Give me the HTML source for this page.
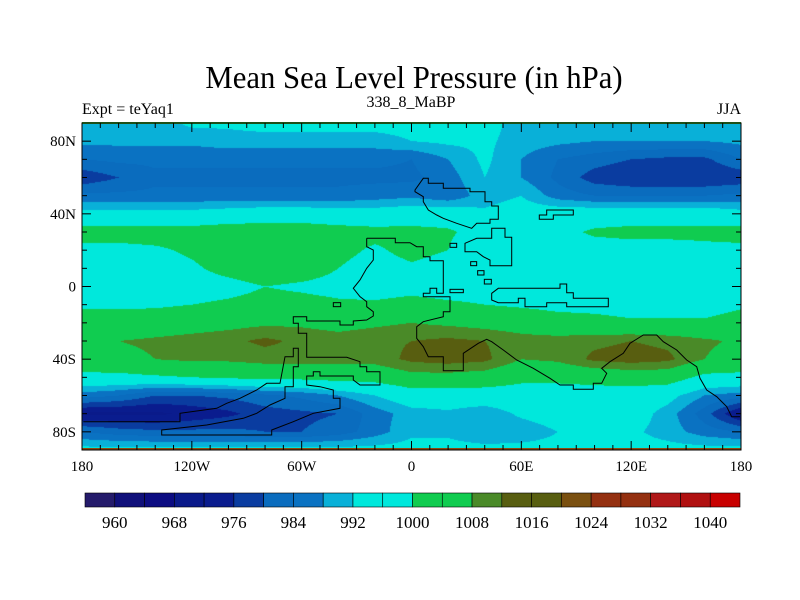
<!DOCTYPE html>
<html><head><meta charset="utf-8"><style>
body{margin:0;background:#fff;width:800px;height:600px;overflow:hidden;position:relative;font-family:"Liberation Serif",serif}
.t{position:absolute;white-space:nowrap;color:#000}
#map{position:absolute;left:82px;top:123px}
svg{position:absolute;left:0;top:0}
</style></head><body>
<div class="t" style="left:0;width:828px;text-align:center;top:59px;font-size:32px;transform:scaleX(0.96)">Mean Sea Level Pressure (in hPa)</div>
<div class="t" style="left:82px;top:101px;font-size:16px">Expt = teYaq1</div>
<div class="t" style="left:311px;width:200px;text-align:center;top:94px;font-size:16px">338_8_MaBP</div>
<div class="t" style="right:59px;top:101px;font-size:16px">JJA</div>
<canvas id="map" width="659" height="327"></canvas>
<svg id="ov" width="800" height="600"></svg>
<script>
const lats=[90,80,70,60,50,40,30,20,10,0,-10,-20,-30,-40,-50,-60,-70,-80,-90];
const lons=[-180,-160,-140,-120,-100,-80,-60,-40,-20,0,20,40,60,80,100,120,140,160,180];
const pressure=[
[990,990,990,993,993,994,994,994,994,994,994,994,990,990,990,990,990,990,990],
[989,989,989,989,990,990,990,990,990,992,993,993,990,989,988,988,988,988,989],
[984,985,985,985,985,985,985,985,985,984,988,993,988,984,982,980,979,979,984],
[977,980,983,983,983,983,983,983,983,983,986,992,988,983,978,976,976,976,977],
[985,985,985,985,985,985,985,985,986,987,985,990,992,986,984,984,984,984,985],
[994,994,994,994,995,996,996,995,995,996,996,993,995,996,996,996,996,996,994],
[1003,1003,1003,1003,1004,1004,1004,1003,1002,1002,1001,997,997,998,1001,1002,1002,1002,1003],
[998,998,999,1001,1004,1005,1004,1002,999,1002,1000,993,996,997,997,997,997,998,998],
[997,997,997,999,1002,1004,1003,1000,997,999,997,995,997,997,997,997,997,997,997],
[997,997,997,997,998,1000,999,998,997,998,997,997,997,997,997,997,997,997,997],
[999,999,999,1000,1001,1002,1002,1001,1001,1002,1001,1000,999,998,998,997,997,997,999],
[1003,1003,1004,1005,1006,1007,1007,1006,1007,1008,1007,1006,1005,1003,1002,1001,1001,1001,1003],
[1007,1008,1009,1010,1011,1013,1011,1010,1011,1012,1013,1012,1010,1010,1011,1012,1011,1009,1007],
[1005,1006,1008,1009,1009,1010,1010,1010,1010,1013,1014,1013,1008,1009,1013,1014,1013,1008,1005],
[998,998,999,1000,1001,1002,1002,1003,1003,1006,1006,1005,1002,1002,1003,1004,1004,998,998],
[986,984,980,980,981,983,985,988,992,996,996,996,996,996,996,996,994,988,986],
[971,971,971,973,975,978,979,980,986,990,991,989,993,995,996,995,990,982,971],
[984,982,981,981,981,980,980,982,986,991,991,988,989,992,995,993,990,986,984],
[994,994,994,994,994,994,994,994,994,994,994,994,994,994,994,994,994,994,994]];
const levels=[960,964,968,972,976,980,984,988,992,996,1000,1004,1008,1012,1016,1020,1024,1028,1032,1036,1040];
const levelLabels=[960,968,976,984,992,1000,1008,1016,1024,1032,1040];
const colors=["#241b6b","#10107a","#0c0c82","#0a1a8a","#0a1c8e","#0a3ca0","#0a6cbe","#0a72c2","#09b0d8","#00e8dc","#00e8dc","#10cc50","#10cc50","#4a8a28","#585e10","#585e10","#7a5010","#943010","#943010","#b01818","#b01010","#c80000"];
const X0=82,X1=741,Y0=123,Y1=450;
const xS=lon=>X0+(lon+180)/360*(X1-X0);
const yS=lat=>Y0+(90-lat)/180*(Y1-Y0);
function hex(c){return [1,3,5].map(k=>parseInt(c.substr(k,2),16));}
const rgb=colors.map(hex);
function idx(v){let i=0;while(i<levels.length&&v>=levels[i])i++;return i;}
const cv=document.getElementById('map'),ctx=cv.getContext('2d');
const W=cv.width,H=cv.height,img=ctx.createImageData(W,H);
const dLat=(lats[0]-lats[lats.length-1])/(lats.length-1),dLon=(lons[lons.length-1]-lons[0])/(lons.length-1);
for(let py=0;py<H;py++){const lat=90-(py+0.5)/H*180;let fr=(lats[0]-lat)/dLat;let r=Math.min(Math.floor(fr),lats.length-2);let ty=fr-r;
for(let px=0;px<W;px++){const lon=-180+(px+0.5)/W*360;let fc=(lon-lons[0])/dLon;let c=Math.min(Math.floor(fc),lons.length-2);let tx=fc-c;
const v=(pressure[r][c]*(1-tx)+pressure[r][c+1]*tx)*(1-ty)+(pressure[r+1][c]*(1-tx)+pressure[r+1][c+1]*tx)*ty;
const col=rgb[idx(v)];const o=(py*W+px)*4;img.data[o]=col[0];img.data[o+1]=col[1];img.data[o+2]=col[2];img.data[o+3]=255;}}
ctx.putImageData(img,0,0);
const NS='http://www.w3.org/2000/svg',ov=document.getElementById('ov');
function mk(t,a,p){const e=document.createElementNS(NS,t);for(const k in a)e.setAttribute(k,a[k]);(p||ov).appendChild(e);return e;}
let s=mk('rect',{x:X0,y:Y0-1,width:X1-X0,height:2,fill:'#3aa030'});


s=mk('rect',{x:X0,y:Y1-2,width:X1-X0,height:2,fill:'#8a4a10'});


const z2=[[860,355],[946,355],[946,368],[990,368],[1020,380],[1040,380],[1040,410],[1060,410],[1060,422],[1100,422],[1100,520],[1080,520],[1080,505],[1060,505],[1060,520],[1040,520],[1040,530],[1120,530],[1120,575],[1100,575],[1100,590],[1040,605],[1020,620],[1020,655],[1040,680],[1055,710],[1100,710],[1100,752],[1160,752],[1160,700],[1205,670],[1230,658],[1245,665],[1280,690],[1320,720],[1370,745],[1420,775],[1450,795],[1490,795],[1490,808],[1550,808],[1550,790],[1575,790],[1590,760],[1575,745],[1600,725],[1640,700],[1660,670],[1700,645],[1740,645],[1760,665],[1800,690],[1830,720],[1860,740],[1870,775],[1890,810],[1920,830],[1950,860],[1965,890],[1990,890]];
const z2b=[[10,905],[300,905],[300,880],[410,865],[440,850],[480,835],[530,810],[560,790],[600,790],[615,710],[640,710],[640,685],[655,685],[655,740],[640,740],[640,800],[615,800],[615,835],[570,855],[530,880],[490,895],[380,915],[245,930],[245,945],[575,945],[575,930],[640,905],[700,880],[780,865],[780,835],[760,835],[760,810],[720,800],[680,795],[680,768],[700,768],[700,755],[720,755],[720,768],[820,768],[820,780],[840,795],[900,795],[900,755],[860,755],[860,740],[840,740],[840,725],[800,712],[680,712],[680,640],[655,640],[655,610],[640,610],[640,590],[680,590],[680,603],[780,603],[780,615],[820,615],[820,603],[860,600],[880,588],[880,575],[860,560],[860,545],[840,530],[820,505],[840,480],[860,445],[880,420],[880,390],[860,380],[860,355]];
const polys=[
[z2,false],[z2b,false],
[[[1015,210],[1040,175],[1055,175],[1055,190],[1100,190],[1100,205],[1180,205],[1180,215],[1225,215],[1225,245],[1245,245],[1245,258],[1265,258],[1265,298],[1240,298],[1240,310],[1200,310],[1185,325],[1140,310],[1100,295],[1080,285],[1055,270],[1040,245],[1040,230],[1015,215]],true],
[[[1200,355],[1245,355],[1245,325],[1285,325],[1285,352],[1305,352],[1305,437],[1240,437],[1240,420],[1220,410],[1200,395],[1165,395],[1165,370]],true],
[[[1245,520],[1265,505],[1450,505],[1450,492],[1470,492],[1470,518],[1490,518],[1490,535],[1595,535],[1595,560],[1470,560],[1470,548],[1410,548],[1410,560],[1345,560],[1345,535],[1325,535],[1325,548],[1265,548],[1245,540]],true],
[[[1388,298],[1388,285],[1410,285],[1410,270],[1490,270],[1490,285],[1430,285],[1430,298]],true]];
const boxes=[[1120,370,1140,382],[1182,425,1200,437],[1203,452,1222,465],[1223,478,1244,492],[1120,508,1160,518],[760,548,782,560]];
function conv(p){const zx=p[0],zy=p[1];return zx>=1000?[410+(zx-1000)/3,120+zy/3]:[80+zx/3,120+zy/3];}
const cg=mk('g',{fill:'none',stroke:'#000','stroke-width':1});


polys.forEach(pp=>{const pts=pp[0].map(conv).map(q=>q[0].toFixed(1)+','+q[1].toFixed(1)).join(' ');mk(pp[1]?'polygon':'polyline',{points:pts},cg);});
boxes.forEach(b=>{const a=conv([b[0],b[1]]),c=conv([b[2],b[3]]);mk('rect',{x:a[0],y:a[1],width:c[0]-a[0],height:c[1]-a[1]},cg);});
let f=mk('rect',{x:X0,y:Y0,width:X1-X0,height:Y1-Y0,fill:'none',stroke:'#000','stroke-width':1});


const lonTicks=[-180,-120,-60,0,60,120,180];
const lonLabels=['180','120W','60W','0','60E','120E','180'];
const latTicks=[80,40,0,-40,-80];
const latLabels=['80N','40N','0','40S','80S'];
const tg=mk('g',{stroke:'#000','stroke-width':1});


for(let lo=-180;lo<=180;lo+=10){const x=xS(lo),L=(lo%60===0)?9:5;mk('line',{x1:x,y1:Y0,x2:x,y2:Y0+L},tg);mk('line',{x1:x,y1:Y1,x2:x,y2:Y1-L},tg);}
for(let la=-80;la<=80;la+=10){const y=yS(la),L=(la%40===0)?9:5;mk('line',{x1:X0,y1:y,x2:X0+L,y2:y},tg);mk('line',{x1:X1,y1:y,x2:X1-L,y2:y},tg);}
lonTicks.forEach((lo,i)=>{const t=mk('text',{x:xS(lo),y:471,'text-anchor':'middle','font-size':15,'font-family':'Liberation Serif'});t.textContent=lonLabels[i];

});
latTicks.forEach((la,i)=>{const t=mk('text',{x:76,y:yS(la)+5,'text-anchor':'end','font-size':15,'font-family':'Liberation Serif'});t.textContent=latLabels[i];

});
const CB0=85,CB1=740,CBY=493,CBH=14,bw=(CB1-CB0)/colors.length;
const cb=mk('g',{});


colors.forEach((c,i)=>{const r=mk('rect',{x:CB0+i*bw,y:CBY,width:bw,height:CBH,fill:c,stroke:'#000','stroke-width':0.6},cb);

});
levelLabels.forEach(v=>{const i=levels.indexOf(v);const t=mk('text',{x:CB0+(i+1)*bw,y:528,'text-anchor':'middle','font-size':17,'font-family':'Liberation Serif'},cb);t.textContent=v;

});
</script>
</body></html>
